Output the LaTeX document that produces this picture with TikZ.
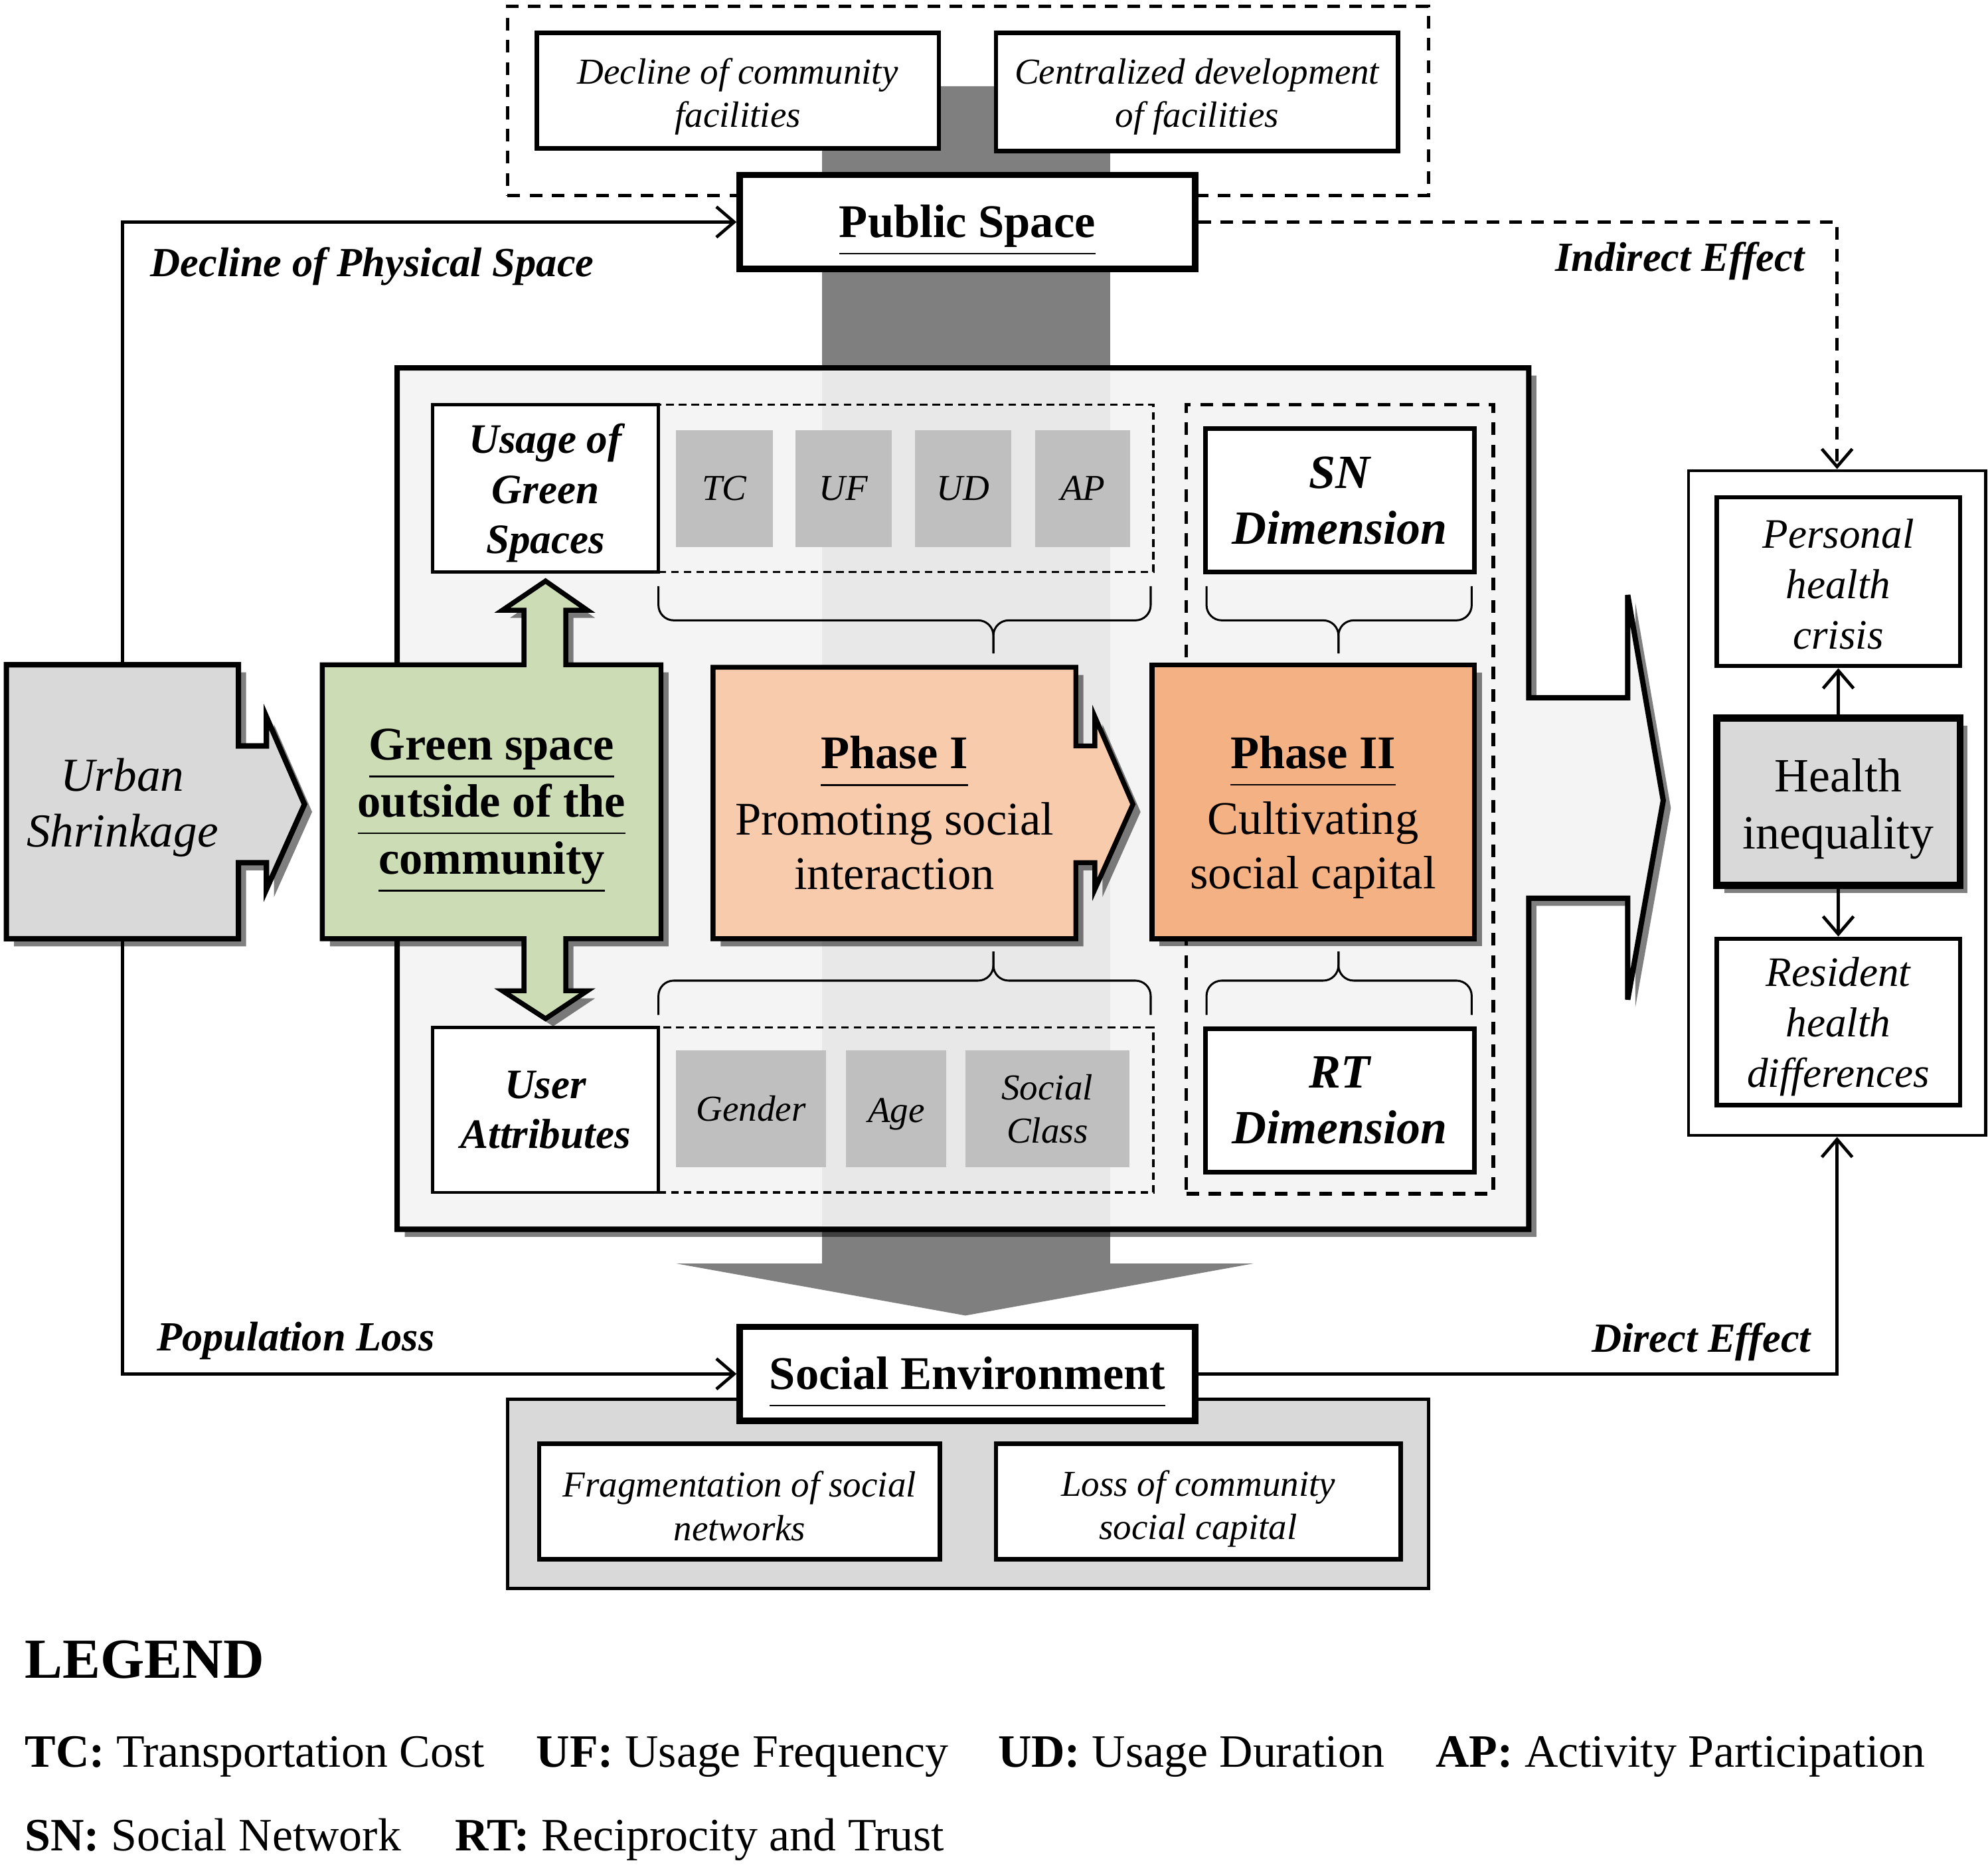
\documentclass[tikz,border=0pt]{standalone}
\usepackage{fontspec}
\setmainfont{Liberation Serif}
\usetikzlibrary{arrows.meta,shadows,fit}

\definecolor{shrinkgray}{HTML}{D9D9D9}
\definecolor{greenfill}{HTML}{CCDCB4}
\definecolor{phaseone}{HTML}{F8CBAD}
\definecolor{phasetwo}{HTML}{F4B183}
\definecolor{itemgray}{HTML}{BFBFBF}
\definecolor{panelgray}{HTML}{F4F4F4}
\definecolor{bandgray}{HTML}{E8E8E8}
\definecolor{shaftgray}{HTML}{7F7F7F}

% underline at a fixed depth, and a strut that pushes a text block down
\newcommand{\ulword}[1]{\underline{#1\vphantom{p}}}
\newcommand{\pushdown}[1]{\rule{0pt}{\dimexpr 0.683em+#1+#1\relax}}

\tikzset{
  boxshadow/.style={drop shadow={shadow xshift=0.6mm, shadow yshift=-0.6mm, opacity=0.5, fill=black}},
  facbox/.style={draw, line width=1pt, fill=white, inner sep=0pt, align=center,
    font=\fontsize{8.2}{9.7}\selectfont\itshape},
  headbox/.style={draw, line width=1.4pt, fill=white, inner sep=0pt, align=center,
    font=\fontsize{10.5}{12.5}\selectfont\bfseries},
  attrbox/.style={draw, line width=0.7pt, fill=white, inner sep=0pt, align=center,
    font=\fontsize{9.4}{11.2}\selectfont\bfseries\itshape},
  itembox/.style={fill=itemgray, inner sep=0pt, align=center,
    font=\fontsize{8.2}{9.7}\selectfont\itshape},
  dimbox/.style={draw, line width=1pt, fill=white, inner sep=0pt, align=center,
    font=\fontsize{10.7}{12.5}\selectfont\bfseries\itshape},
  phasebox/.style={inner sep=0pt, align=center, font=\fontsize{10.5}{12.2}\selectfont},
  outbox/.style={draw, line width=1pt, fill=white, inner sep=0pt, align=center,
    font=\fontsize{9.4}{11.3}\selectfont\itshape},
  grouplabel/.style={inner sep=0pt, font=\fontsize{9.3}{11}\selectfont\bfseries\itshape},
  legendtext/.style={inner sep=0pt, anchor=base west, font=\fontsize{10.4}{12.5}\selectfont},
  conn/.style={line width=0.7pt, -{Straight Barb[length=1.4mm,width=2.4mm]}},
  dashline/.style={dash pattern=on 1mm off 0.75mm},
  thindash/.style={dash pattern=on 0.6mm off 0.4mm},
  bracepart/.style={line width=0.45pt, rounded corners=1.2mm}
}

\begin{document}
\begin{tikzpicture}[x=0.1mm, y=-0.1mm]
\useasboundingbox (0,0) rectangle (1567,1470);

% public space on top
\node[draw, line width=0.7pt, dashline, inner sep=0pt, fit={(400,5) (1126,154)}] (pubgroup) {};
\fill[shaftgray] (648,68) -- (875,68) -- (875,996) -- (988,996) -- (761,1037) -- (533,996) -- (648,996) -- cycle;
\node[facbox, minimum width=31.7mm, minimum height=9.1mm] (declfac) at (581.5,71.5) {\pushdown{0.5mm}Decline of community\\facilities};
\node[facbox, minimum width=31.7mm, minimum height=9.3mm] (centfac) at (943.5,72.5) {\pushdown{0.4mm}Centralized development\\of facilities};
\node[headbox, minimum width=35.9mm, minimum height=7.4mm] (pub) at (762.5,175) {\pushdown{0.7mm}\ulword{Public Space}};

% main panel
\draw[boxshadow, fill=panelgray, line width=1.2pt] (313,290) -- (1205,290) -- (1205,550) -- (1283,550) -- (1283,469) -- (1311,631) -- (1283,788) -- (1283,708) -- (1205,708) -- (1205,969) -- (313,969) -- cycle;
\fill[bandgray] (648,293) rectangle (875,966);

% usage of green spaces
\node[draw, line width=0.5pt, thindash, inner sep=0pt, fit={(519,319) (909,451)}] (usagegrp) {};
\node[attrbox, minimum width=17.8mm, minimum height=13.2mm] (usage) at (430,385) {\pushdown{0.4mm}Usage of\\Green\\Spaces};
\node[itembox, minimum width=7.6mm, minimum height=9.2mm] (tc) at (571,385) {TC};
\node[itembox, minimum width=7.6mm, minimum height=9.2mm] (uf) at (665,385) {UF};
\node[itembox, minimum width=7.6mm, minimum height=9.2mm] (ud) at (759,385) {UD};
\node[itembox, minimum width=7.5mm, minimum height=9.2mm] (ap) at (853.5,385) {AP};

% user attributes
\node[draw, line width=0.5pt, thindash, inner sep=0pt, fit={(519,810) (909,940)}] (usergrp) {};
\node[attrbox, minimum width=17.8mm, minimum height=13mm] (user) at (430,875) {User\\Attributes};
\node[itembox, minimum width=11.8mm, minimum height=9.2mm] (gender) at (592,874) {Gender};
\node[itembox, minimum width=7.9mm, minimum height=9.2mm] (age) at (706.5,874) {\pushdown{0.4mm}Age};
\node[itembox, minimum width=12.9mm, minimum height=9.2mm] (class) at (825.5,874) {Social\\Class};

% social capital dimensions
\node[draw, line width=0.8pt, dashline, inner sep=0pt, fit={(935,319) (1177,941)}] (capgrp) {};
\node[dimbox, minimum width=21.2mm, minimum height=11.3mm] (sn) at (1056,394.5) {SN\\Dimension};
\node[dimbox, minimum width=21.2mm, minimum height=11.3mm] (rt) at (1056,867.5) {RT\\Dimension};

% braces
\draw[bracepart] (519,462) |- (783,489) -- (783,515);
\draw[bracepart] (907,462) |- (783,489) -- (783,515);
\draw[bracepart] (519,800) |- (783,773) -- (783,750);
\draw[bracepart] (907,800) |- (783,773) -- (783,750);
\draw[bracepart] (951,462) |- (1055,489) -- (1055,515);
\draw[bracepart] (1160,462) |- (1055,489) -- (1055,515);
\draw[bracepart] (951,800) |- (1055,773) -- (1055,750);
\draw[bracepart] (1160,800) |- (1055,773) -- (1055,750);

% urban shrinkage
\draw[boxshadow, fill=shrinkgray, line width=1.2pt] (5,524) -- (188,524) -- (188,588) -- (210,588) -- (210,565) -- (240,634) -- (210,701) -- (210,680) -- (188,680) -- (188,740) -- (5,740) -- cycle;
\node[phasebox, font=\fontsize{10.6}{12.5}\selectfont\itshape, minimum width=18.3mm, minimum height=21.6mm] (urban) at (96.5,632) {\pushdown{0.5mm}Urban\\Shrinkage};

% green space
\draw[boxshadow, fill=greenfill, line width=1.1pt] (254,524) -- (413,524) -- (413,481) -- (396,481) -- (430,458) -- (463,481) -- (446,481) -- (446,524) -- (521,524) -- (521,740) -- (446,740) -- (446,781) -- (463,781) -- (430,803) -- (396,781) -- (413,781) -- (413,740) -- (254,740) -- cycle;
\node[phasebox, font=\fontsize{10.5}{12.8}\selectfont\bfseries, minimum width=26.7mm, minimum height=21.6mm] (green) at (387.5,632) {\pushdown{0.7mm}\ulword{Green space}\\\ulword{outside of the}\\\ulword{community}};

% phases
\draw[boxshadow, fill=phaseone, line width=1.1pt] (562,526) -- (848,526) -- (848,588) -- (863,588) -- (863,565) -- (893,634) -- (863,701) -- (863,680) -- (848,680) -- (848,740) -- (562,740) -- cycle;
\node[phasebox, minimum width=28.6mm, minimum height=21.4mm] (phaseI) at (705,633) {\pushdown{0.8mm}\textbf{\ulword{Phase I}}\\[0.9mm]Promoting social\\interaction};
\node[phasebox, draw, line width=1.1pt, fill=phasetwo, boxshadow, minimum width=25.4mm, minimum height=21.6mm] (phaseII) at (1035,632) {\pushdown{1.25mm}\textbf{\ulword{Phase II}}\\[0.9mm]Cultivating\\social capital};

% health outcomes
\node[draw, line width=0.7pt, fill=white, inner sep=0pt, fit={(1331,371) (1565,895)}] (health) {};
\node[outbox, minimum width=19.2mm, minimum height=13.3mm] (pers) at (1449,458.5) {\pushdown{0.2mm}Personal\\health\\crisis};
\node[draw, line width=1.6pt, fill=shrinkgray, boxshadow, inner sep=0pt, align=center, font=\fontsize{10.7}{12.8}\selectfont, minimum width=19.2mm, minimum height=13.2mm] (ineq) at (1449,632) {\pushdown{0.6mm}Health\\inequality};
\node[outbox, minimum width=19.2mm, minimum height=13.1mm] (resid) at (1449,805.5) {\pushdown{0.4mm}Resident\\health\\differences};
\draw[conn] (ineq.north) -- (pers.south);
\draw[conn] (ineq.south) -- (resid.north);

% social environment
\node[draw, line width=0.7pt, fill=shrinkgray, inner sep=0pt, fit={(400,1103) (1126,1252)}] (socgroup) {};
\node[facbox, minimum width=31.6mm, minimum height=9.1mm] (fragnet) at (583,1183.5) {\pushdown{0.4mm}Fragmentation of social\\networks};
\node[facbox, minimum width=31.9mm, minimum height=9.1mm] (losscap) at (944.5,1183.5) {\pushdown{0.6mm}Loss of community\\social capital};
\node[headbox, minimum width=35.9mm, minimum height=7.4mm] (socenv) at (762.5,1083) {\pushdown{0.7mm}\ulword{Social Environment}};

% effects
\draw[conn] (urban.north) |- (pub.west);
\draw[conn] (urban.south) |- (socenv.west);
\draw[conn, dashline] (pub.east) -| (health.north);
\draw[conn] (socenv.east) -| (health.south);
\node[grouplabel, anchor=base west] (physlbl) at (118,218) {Decline of Physical Space};
\node[grouplabel, anchor=base east] (indlbl) at (1423,214) {Indirect Effect};
\node[grouplabel, anchor=base west] (poplbl) at (123,1065) {Population Loss};
\node[grouplabel, anchor=base east] (dirlbl) at (1428,1066) {Direct Effect};

% legend
\node[legendtext, font=\fontsize{12.7}{15}\selectfont\bfseries] (legtitle) at (19,1323) {LEGEND};
\node[legendtext] (tcleg) at (19,1393) {\textbf{TC:} Transportation Cost};
\node[legendtext] (ufleg) at (422,1393) {\textbf{UF:} Usage Frequency};
\node[legendtext] (udleg) at (786,1393) {\textbf{UD:} Usage Duration};
\node[legendtext] (apleg) at (1131,1393) {\textbf{AP:} Activity Participation};
\node[legendtext] (snleg) at (19,1459) {\textbf{SN:} Social Network};
\node[legendtext] (rtleg) at (358,1459) {\textbf{RT:} Reciprocity and Trust};
\end{tikzpicture}
\end{document}
